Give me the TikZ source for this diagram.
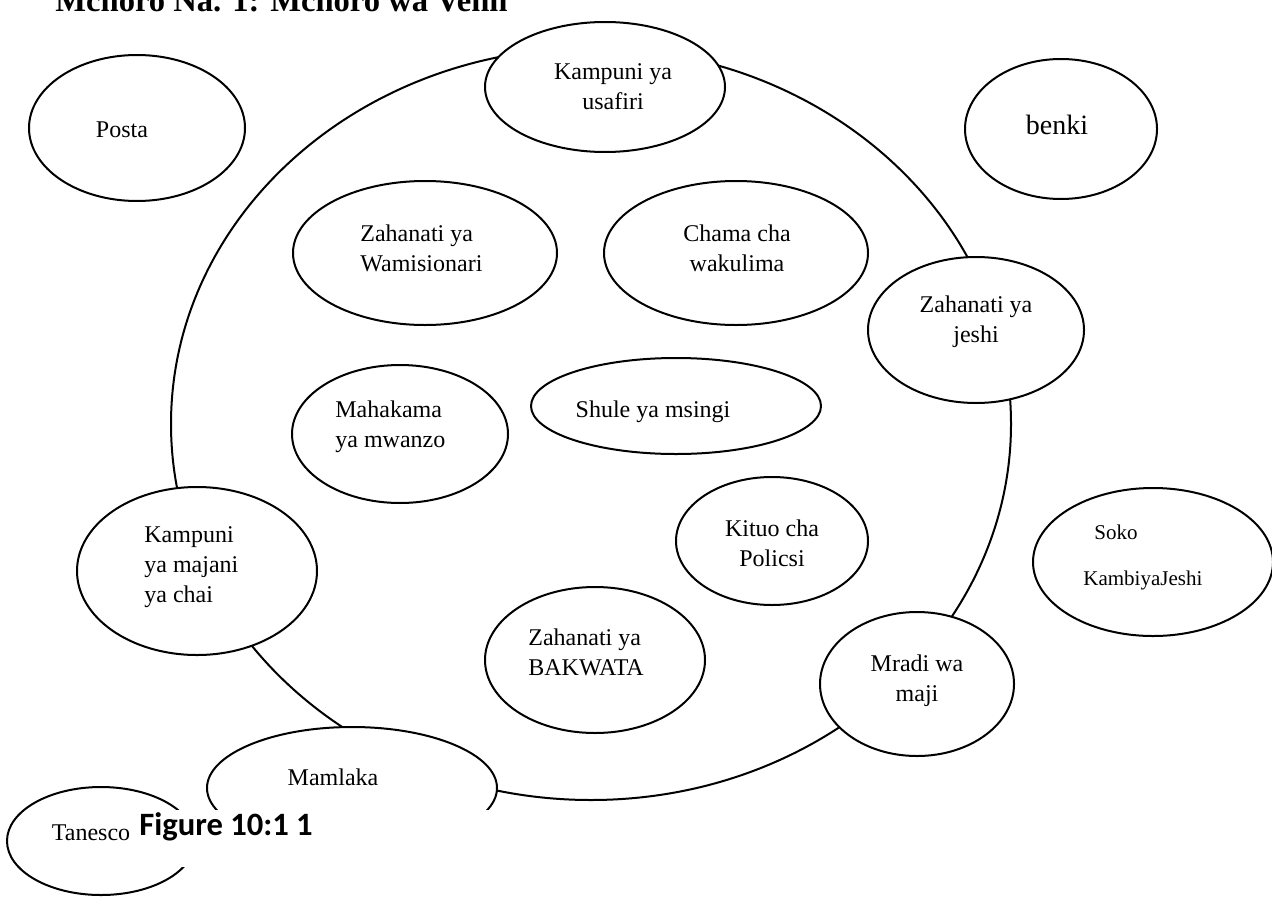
\documentclass[tikz,border=0pt]{standalone}
\usepackage{fontspec}
\setmainfont{Liberation Serif}
\newfontfamily\capfont{Carlito}
\usetikzlibrary{shapes.geometric}
\begin{document}
\begin{tikzpicture}[x=0.5pt,y=-0.5pt,
  ov/.style={draw=black, line width=1pt, ellipse, fill=white, inner sep=0pt},
  lbl/.style={font=\fontsize{12}{15}\selectfont, inner sep=0pt, align=center},
  lbll/.style={font=\fontsize{12}{15}\selectfont, inner sep=0pt, align=left, anchor=west}]
\useasboundingbox (0,0) rectangle (1272,899);
\clip (0,0) rectangle (1272,899);
\node[font=\bfseries\fontsize{16.3}{18}\selectfont, anchor=base west, inner sep=0pt] (title) at (55,12) {Mchoro Na. 1: Mchoro wa Venn};
% big set
\node[draw=black, line width=1pt, ellipse, inner sep=0pt, minimum width=420pt, minimum height=376pt] (venn) at (591,424) {};
% ellipses
\node[ov, minimum width=108pt, minimum height=73pt] (posta) at (137,128) {};
\node[ov, minimum width=120pt, minimum height=65pt] (usafiri) at (605,87) {};
\node[ov, minimum width=96pt, minimum height=70pt] (benki) at (1061,129) {};
\node[ov, minimum width=132pt, minimum height=72pt] (wamis) at (425,253) {};
\node[ov, minimum width=132pt, minimum height=72pt] (chama) at (736,253) {};
\node[ov, minimum width=108pt, minimum height=73pt] (jeshi) at (976,330) {};
\node[ov, minimum width=108pt, minimum height=69pt] (mahak) at (400,434) {};
\node[ov, minimum width=145pt, minimum height=48pt] (shule) at (676,406) {};
\node[ov, minimum width=120pt, minimum height=84pt] (chai) at (197,571) {};
\node[ov, minimum width=96pt, minimum height=64pt] (polisi) at (772,541) {};
\node[ov, minimum width=120pt, minimum height=74pt] (soko) at (1153,562) {};
\node[ov, minimum width=110pt, minimum height=73pt] (bakwata) at (595,660) {};
\node[ov, minimum width=97pt, minimum height=72pt] (mradi) at (917,684) {};
\node[ov, minimum width=145pt, minimum height=61pt] (mamlaka) at (352,788) {};
\node[ov, minimum width=94pt, minimum height=54pt] (tanesco) at (101,841) {};
% texts
\node[lbl] (tposta) at (122,130) {Posta};
\node[lbl] (tusafiri) at (613,87) {Kampuni ya\\usafiri};
\node[lbl, font=\fontsize{14}{16}\selectfont] (tbenki) at (1057,125) {benki};
\node[lbll] (twamis) at (360,248) {Zahanati ya\\Wamisionari};
\node[lbl] (tchama) at (737,248) {Chama cha\\wakulima};
\node[lbl] (tjeshi) at (976,322) {Zahanati ya\\jeshi};
\node[lbll] (tmahak) at (335,427) {Mahakama\\ya mwanzo};
\node[lbl] (tshule) at (653,412) {Shule ya msingi};
\node[lbll] (tchai) at (144,567) {Kampuni\\ya majani\\ya chai};
\node[lbl] (tpolisi) at (772,543) {Kituo cha\\Policsi};
\node[lbl, font=\fontsize{10.5}{12}\selectfont, anchor=west] (tsoko) at (1094,532) {Soko};
\node[lbl, font=\fontsize{10.5}{12}\selectfont, anchor=west] (tkambi) at (1083,580) {KambiyaJeshi};
\node[lbll] (tbakwata) at (528,652) {Zahanati ya\\BAKWATA};
\node[lbl] (tmradi) at (917,681) {Mradi wa\\maji};
\node[lbl] (tmamlaka) at (333,777) {Mamlaka};
\node[lbl] (ttanesco) at (91,833) {Tanesco};
% caption box
\node[fill=white, inner sep=0pt, minimum width=190pt, minimum height=28.5pt, anchor=north west] (capbox) at (138,810) {};
\node[font=\capfont\bfseries\fontsize{16.3}{18}\selectfont, inner sep=0pt, anchor=west] (caption) at (139,827) {Figure 10:1 1};
\end{tikzpicture}
\end{document}
